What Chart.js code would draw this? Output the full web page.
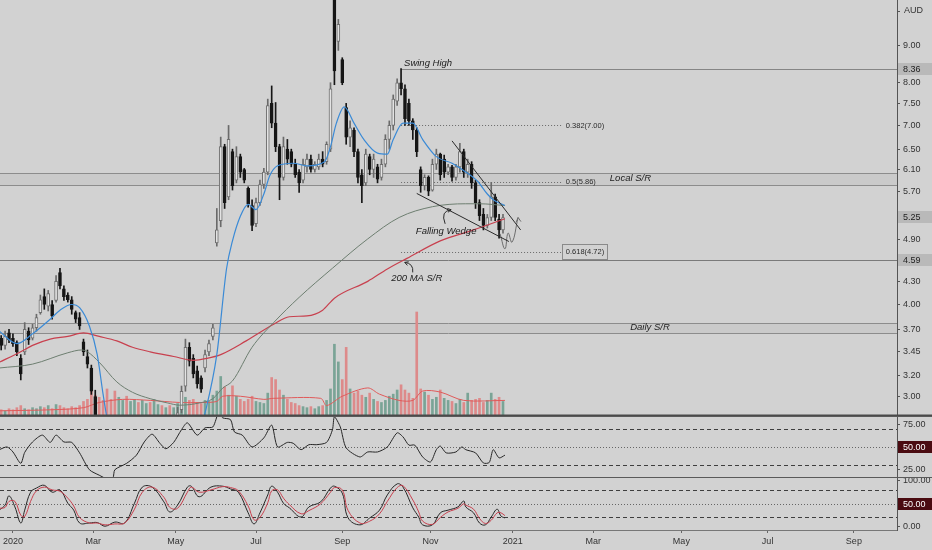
<!DOCTYPE html>
<html>
<head>
<meta charset="utf-8">
<title>Daily chart AUD</title>
<script src="https://cdn.jsdelivr.net/npm/chart.js@4.4.1/dist/chart.umd.min.js"></script>
<style>
  html, body { margin: 0; padding: 0; background: #d2d2d2; }
  body { width: 932px; height: 550px; position: relative; overflow: hidden; }
  canvas { position: absolute; left: 0; display: block; }
  #priceChart { top: 0; }
  #rsiChart { top: 416px; }
  #stochChart { top: 477px; }
</style>
</head>
<body>
<canvas id="priceChart" width="932" height="416"></canvas>
<canvas id="rsiChart" width="932" height="61"></canvas>
<canvas id="stochChart" width="932" height="73"></canvas>
<script>
// ---- data (one candle per two sessions) ----
const open = [3.60,3.52,3.66,3.60,3.55,3.38,3.45,3.68,3.60,3.72,3.90,4.10,3.98,4.00,4.05,4.42,4.20,4.12,4.06,3.90,3.84,3.56,3.40,3.28,3.00,
  2.75,2.50,2.20,1.70,1.40,1.10,1.35,1.55,1.45,1.75,1.95,1.85,2.15,2.35,2.25,2.55,2.70,2.60,2.72,2.65,2.78,
  2.88,3.10,3.50,3.38,3.25,3.18,3.28,3.45,3.62,4.85,5.20,6.55,5.60,6.45,5.90,6.35,6.10,5.75,5.45,5.15,5.50,5.82,6.05,7.50,
  7.05,6.55,5.95,6.50,6.45,6.20,6.05,5.90,6.15,6.30,6.10,6.15,6.30,6.25,6.50,10.40,9.10,8.60,7.40,6.75,6.90,6.45,6.00,5.85,
  6.35,6.10,6.15,5.95,6.20,6.70,7.00,7.55,8.00,7.85,7.50,7.10,6.90,6.10,5.80,5.95,5.72,6.20,6.40,6.30,6.05,6.15,5.95,6.15,
  6.45,6.05,6.20,5.85,5.50,5.30,5.12,5.25,5.60,5.22,5.05];
const high = [3.63,3.68,3.70,3.65,3.57,3.42,3.78,3.72,3.76,3.88,4.12,4.20,4.18,4.05,4.38,4.48,4.24,4.15,4.10,3.92,3.90,3.59,3.47,3.31,3.06,
  2.80,2.60,2.30,1.90,1.50,1.40,1.60,1.70,1.80,2.00,2.05,2.20,2.40,2.45,2.60,2.75,2.80,2.78,2.80,2.82,2.90,
  3.10,3.59,3.55,3.42,3.30,3.20,3.47,3.58,3.76,5.40,6.75,6.60,7.00,6.50,6.55,6.40,6.12,5.78,5.55,5.58,5.90,6.12,7.60,7.92,
  7.52,6.60,6.75,6.70,6.50,6.30,6.10,6.30,6.40,6.38,6.25,6.40,6.45,6.65,8.00,10.80,9.75,8.65,7.50,7.10,6.95,6.50,6.10,6.50,
  6.40,6.40,6.20,6.30,6.80,7.10,7.70,8.10,8.36,7.95,7.60,7.15,6.95,6.15,6.00,5.98,6.30,6.50,6.42,6.38,6.20,6.18,6.20,6.62,
  6.50,6.30,6.25,5.90,5.55,5.40,5.30,5.86,5.65,5.30,5.30];
const low = [3.47,3.48,3.55,3.51,3.41,3.16,3.42,3.53,3.58,3.68,3.88,3.94,3.92,3.82,4.03,4.20,4.05,4.03,3.88,3.78,3.70,3.41,3.28,3.02,2.75,
  2.45,2.10,1.60,1.30,1.00,1.05,1.30,1.40,1.45,1.70,1.80,1.85,2.10,2.20,2.20,2.50,2.55,2.50,2.60,2.60,2.70,
  2.85,3.05,3.30,3.18,3.08,3.04,3.24,3.41,3.58,4.80,5.10,5.40,5.55,5.72,5.85,5.95,5.85,5.42,5.04,5.10,5.45,5.75,6.00,6.95,
  6.45,5.55,5.90,6.20,6.15,5.95,5.68,5.85,6.05,6.05,6.05,6.10,6.15,6.20,6.45,7.95,8.85,7.95,6.60,6.55,6.35,5.85,5.50,5.80,
  6.00,5.95,5.85,5.90,6.15,6.50,6.90,7.45,7.70,7.00,7.00,6.70,6.35,5.68,5.72,5.62,5.70,6.10,5.90,5.95,6.00,5.88,5.90,6.05,
  5.95,5.95,5.75,5.40,5.20,5.05,5.08,5.20,5.20,4.92,5.00];
const close = [3.52,3.62,3.58,3.54,3.45,3.22,3.70,3.58,3.72,3.84,4.06,4.00,4.14,3.86,4.30,4.24,4.10,4.06,3.94,3.82,3.74,3.45,3.32,3.05,2.78,
  2.50,2.20,1.70,1.40,1.10,1.35,1.55,1.45,1.75,1.95,1.85,2.15,2.35,2.25,2.55,2.70,2.60,2.72,2.65,2.78,2.85,
  3.05,3.50,3.35,3.22,3.12,3.07,3.42,3.54,3.72,5.05,6.55,5.50,6.70,5.80,6.35,6.05,5.90,5.48,5.12,5.50,5.82,6.05,7.45,7.05,
  6.55,5.95,6.55,6.30,6.20,6.00,5.85,6.20,6.30,6.10,6.20,6.30,6.20,6.60,7.85,8.30,9.60,8.00,6.75,6.95,6.45,5.95,5.80,6.40,
  6.10,6.30,5.92,6.20,6.70,7.00,7.60,8.00,7.85,7.15,7.10,6.90,6.45,5.80,5.95,5.70,6.20,6.40,6.00,6.05,6.15,5.95,6.15,6.45,
  6.05,6.20,5.85,5.50,5.28,5.12,5.25,5.60,5.25,5.05,5.25];
// volume, millions of shares
const volume = [0.6,0.5,0.7,0.6,0.8,1.0,0.7,0.6,0.8,0.7,0.9,0.8,1.0,0.7,1.1,1.0,0.8,0.7,0.9,0.8,1.0,1.4,1.6,2.4,2.0,
  1.8,1.5,2.6,1.6,2.4,1.8,1.5,1.9,1.4,1.6,1.3,1.5,1.2,1.3,1.6,1.1,1.0,0.8,1.0,0.8,1.2,
  1.2,1.8,1.5,1.6,1.3,1.2,1.5,1.4,2.0,2.4,3.8,2.8,2.0,2.9,1.9,1.6,1.4,1.6,1.9,1.4,1.3,1.2,2.2,3.7,
  3.5,2.5,2.0,1.6,1.3,1.2,1.0,0.9,0.8,0.9,0.7,0.9,1.0,1.5,2.6,6.9,5.2,3.5,6.6,2.6,2.2,2.4,2.0,1.8,
  2.2,1.6,1.4,1.3,1.5,1.9,2.1,2.5,3.0,2.5,2.2,1.7,10.0,2.6,2.3,2.0,1.6,1.8,2.5,1.7,1.5,1.4,1.2,1.6,
  1.3,2.2,1.5,1.6,1.7,1.3,1.5,2.2,1.6,1.8,1.4];
// session number of each candle (0 = first session of 2020)
const barIdx = open.map((_, k) => k * 2 - 6);

const blueIdx = [-7,2,10,19,24,30,34,39,43,46,49,60,75,88,98,104,109,112,116,120,124,128,131,135,143,150,159,162,165,169,174,179,186,191,194,199,204,209,216,224,227,237,242,245,251];
const blueMa  = [3.68,3.54,3.65,3.82,3.93,4.00,3.96,3.74,3.42,3.02,2.70,1.90,1.80,2.30,2.85,3.42,4.48,4.88,5.27,5.47,5.38,5.65,5.98,6.17,6.22,6.17,6.25,6.55,7.05,7.42,7.05,6.70,6.42,6.40,6.70,7.05,7.05,6.70,6.35,6.22,6.15,5.88,5.65,5.55,5.45];
const grayIdx = [-7,10,28,35,38,44,53,61,70,79,85,95,102,107,112,122,133,146,163,181,197,214,231,238,251];
const grayMa  = [3.28,3.32,3.44,3.47,3.45,3.34,3.14,3.04,2.98,2.94,2.92,2.94,2.98,3.08,3.15,3.50,3.78,4.09,4.48,4.91,5.25,5.43,5.48,5.48,5.45];
const redIdx  = [-7,3,10,19,28,36,44,53,61,70,82,92,99,106,119,133,141,150,158,164,181,191,201,218,235,251];
const redMa   = [3.34,3.44,3.52,3.59,3.62,3.66,3.62,3.57,3.50,3.45,3.40,3.36,3.38,3.42,3.57,3.76,3.85,3.86,3.93,4.08,4.30,4.47,4.62,4.88,5.05,5.23];
const volMaIdx = [-7,20,36,44,56,70,85,96,104,107,116,128,133,157,160,168,181,187,197,204,209,218,230,251];
const volMa    = [0.5,0.6,0.8,1.3,1.6,1.5,1.3,1.3,1.4,1.9,1.9,1.6,1.7,1.7,1.0,1.9,2.7,2.1,1.5,1.5,2.4,2.3,1.5,1.5];

const rsiIdx = [-7,-3,0,4,6,10,15,19,22,26,30,34,39,44,48,51,52,58,63,67,71,75,78,82,86,89,94,98,102,105,107,111,113,117,122,128,132,135,140,143,147,151,155,160,163,164,167,170,177,181,186,191,196,199,202,205,209,213,216,218,221,226,229,231,236,240,243,245,248,251];
const rsi    = [47,50,44.5,32,44,55.5,63,55,63,55.5,55,43.5,25,19,15,16,25,32,41,55.5,64,54,48,55,69,76.5,63,71,72,88,82,80,66.5,63,50,60,74,50,55,54,47,52.5,52.5,55,69,83,72,49,39,44.5,44.5,50,65.5,61,52,52,39,33.5,47,51,43.5,44.5,50,47,43.5,32.4,33,47,38,41];
const stochIdx = [-7,-4,-2,1,4,6,9,12,16,20,24,28,31,34,39,43,47,52,57,62,66,71,77,80,84,89,91,95,101,107,111,115,120,123,126,130,132,135,138,141,147,151,157,162,164,168,171,177,182,187,191,196,199,204,207,209,214,218,222,227,230,231,235,238,241,244,247,249,251];
const stochK = [36,47,67,43,8,36,75,84,90,75,80,51,36,8,8,9,1,10,8,51,86,86,54,32,47,86,88,65,86,88,82,75,30,6,30,69,88,75,51,41,21,43,54,84,88,73,19,4,19,36,69,93,86,41,21,4,4,30,36,43,56,43,30,8,4,21,38,23,19];
const stochD = [40,42,55,55,25,22,55,78,86,80,77,62,45,20,8,8,4,6,8,38,75,86,64,42,40,75,86,75,80,87,85,78,45,15,20,52,78,80,62,48,28,35,50,75,85,80,35,8,12,28,55,85,89,58,32,12,5,20,32,40,50,47,38,18,7,14,30,30,24];

// drawn studies
const wedgeUpperIdx = [224, 259], wedgeUpper = [6.67, 5.05];
const wedgeLowerIdx = [206, 253], wedgeLower = [5.66, 4.87];
const pathIdx = [248.5, 251, 252.6, 254.6, 257.7], pathPrice = [4.99, 4.76, 5.00, 4.86, 5.25];

// levels
const swingHigh = 8.36;
const fibRatios = ['0.382', '0.5', '0.618'];
const fibPrices = [7.00, 5.86, 4.72];
const localSR = [5.82, 6.03];
const dailySR = [3.66, 3.78];
const support = 4.59;
const lastPrice = 5.25;

// axes
const priceTicks = [3.00, 3.20, 3.45, 3.70, 4.00, 4.30, 4.90, 5.70, 6.10, 6.50, 7.00, 7.50, 8.00, 9.00];
const priceTags = [swingHigh, lastPrice, support];
const monthIdx = [0, 41, 83, 124, 168, 213, 255, 296, 341, 385, 429];
const monthLabels = ['2020', 'Mar', 'May', 'Jul', 'Sep', 'Nov', '2021', 'Mar', 'May', 'Jul', 'Sep'];

// ---- helpers ----
const FONT = '"Liberation Sans", Arial, sans-serif';
const X_MIN = -6.6, X_MAX = 451;
Chart.defaults.font.family = FONT;

const pts = (xs, ys) => xs.map((x, k) => ({ x, y: ys[k] }));
const isUp = k => close[k] >= open[k];

function xScale(show) {
    return {
        type: 'linear', min: X_MIN, max: X_MAX, display: show, offset: false,
        afterBuildTicks: s => { s.ticks = monthIdx.map(v => ({ value: v })); },
        ticks: { autoSkip: false, maxRotation: 0, color: '#333', font: { size: 9 }, padding: 3,
                 callback: v => monthLabels[monthIdx.indexOf(v)] },
        grid: { drawOnChartArea: false, drawTicks: true, tickLength: 3, color: '#666', offset: false },
        border: { display: true, color: '#777' },
        afterFit: s => { if (show) s.height = 20; s.paddingLeft = 0; s.paddingRight = 0; }
    };
}

function yScale(extra) {
    return Object.assign({
        position: 'right',
        grid: { drawOnChartArea: false, drawTicks: true, tickLength: 3, color: '#555' },
        border: { display: true, color: '#555' },
        ticks: { autoSkip: false, color: '#333', font: { size: 9 }, padding: 3, callback: v => Number(v).toFixed(2) },
        afterFit: s => { s.width = 35; s.paddingTop = 0; s.paddingBottom = 0; }
    }, extra);
}

function hline(ctx, x1, x2, y, color, dash) {
    const yy = Math.round(y) + 0.5;
    ctx.beginPath();
    ctx.setLineDash(dash || []);
    ctx.strokeStyle = color;
    ctx.lineWidth = 1;
    ctx.moveTo(x1, yy); ctx.lineTo(x2, yy);
    ctx.stroke();
    ctx.setLineDash([]);
}

function arrowHead(ctx, x, y, ang, size) {
    ctx.beginPath();
    ctx.moveTo(x - size * Math.cos(ang - 0.5), y - size * Math.sin(ang - 0.5));
    ctx.lineTo(x, y);
    ctx.lineTo(x - size * Math.cos(ang + 0.5), y - size * Math.sin(ang + 0.5));
    ctx.stroke();
}

function axisTag(ctx, chart, y, text, bg, fg) {
    const left = chart.chartArea.right + 1;
    ctx.fillStyle = bg;
    ctx.fillRect(left, Math.round(y) - 6, chart.width - left, 12);
    ctx.fillStyle = fg;
    ctx.font = '9px ' + FONT;
    ctx.textAlign = 'left';
    ctx.textBaseline = 'middle';
    ctx.fillText(text, left + 5, Math.round(y) + 0.5);
}

// ---- price pane decorations ----
const FIB_FROM = 198, FIB_TO = 280;
const priceDecor = {
    id: 'priceDecor',
    beforeDatasetsDraw(chart) {
        const { ctx, chartArea: a, scales: { x, y } } = chart;
        ctx.save();
        for (const band of [localSR, dailySR]) {
            const top = Math.round(y.getPixelForValue(band[1])), bot = Math.round(y.getPixelForValue(band[0]));
            ctx.fillStyle = 'rgba(0,0,0,0.035)';
            ctx.fillRect(a.left, top, a.right - a.left, bot - top);
            hline(ctx, a.left, a.right, top, '#8c8c8c');
            hline(ctx, a.left, a.right, bot, '#8c8c8c');
        }
        hline(ctx, a.left, a.right, y.getPixelForValue(support), '#7a7a7a');
        const sx = x.getPixelForValue(FIB_FROM), fx = x.getPixelForValue(FIB_TO);
        hline(ctx, sx, a.right, y.getPixelForValue(swingHigh), '#858585');
        fibPrices.forEach(p => hline(ctx, sx, fx, y.getPixelForValue(p), '#6a6a6a', [1, 2]));
        ctx.restore();
    },
    afterDatasetsDraw(chart) {
        const { ctx, scales: { x, y } } = chart;
        ctx.save();
        const sx = x.getPixelForValue(FIB_FROM), fx = x.getPixelForValue(FIB_TO);
        ctx.fillStyle = '#1c1c1c';
        ctx.font = 'italic 9.5px ' + FONT;
        ctx.textAlign = 'left'; ctx.textBaseline = 'bottom';
        ctx.fillText('Swing High', sx + 3, y.getPixelForValue(swingHigh) - 1);

        ctx.textAlign = 'center'; ctx.textBaseline = 'middle';
        ctx.fillText('Local S/R', x.getPixelForValue(315), (y.getPixelForValue(localSR[0]) + y.getPixelForValue(localSR[1])) / 2);
        ctx.fillText('Daily S/R', x.getPixelForValue(325), (y.getPixelForValue(dailySR[0]) + y.getPixelForValue(dailySR[1])) / 2);

        const wx = x.getPixelForValue(221), wy = y.getPixelForValue(5.02);
        ctx.fillText('Falling Wedge', wx, wy);
        const mx = x.getPixelForValue(206), my = y.getPixelForValue(4.34);
        ctx.fillText('200 MA S/R', mx, my);

        // little curved pointers
        ctx.strokeStyle = '#2a2a2a'; ctx.lineWidth = 1;
        ctx.beginPath(); ctx.moveTo(wx - 1, wy - 8); ctx.quadraticCurveTo(wx - 6, wy - 21, wx + 5, wy - 22); ctx.stroke();
        arrowHead(ctx, wx + 5, wy - 22, -0.15, 4);
        ctx.beginPath(); ctx.moveTo(mx - 4, my - 6); ctx.quadraticCurveTo(mx - 3, my - 15, mx - 12, my - 16); ctx.stroke();
        arrowHead(ctx, mx - 12, my - 16, Math.PI + 0.35, 4);

        // fib labels
        ctx.font = '7.5px ' + FONT;
        ctx.textAlign = 'left'; ctx.fillStyle = '#2a2a2a';
        fibPrices.forEach((p, k) => {
            const py = y.getPixelForValue(p);
            const t = fibRatios[k] + '(' + p.toFixed(2) + ')';
            ctx.fillText(t, fx + 4, py);
            if (k === 2) {
                const w = ctx.measureText(t).width + 7;
                ctx.strokeStyle = '#8a8a8a';
                ctx.strokeRect(Math.round(fx) + 0.5, Math.round(py) - 7.5, Math.round(w), 15);
            }
        });

        // projected path arrow
        const meta = chart.getDatasetMeta(chart.data.datasets.findIndex(d => d.label === 'path'));
        const pe = meta.data[meta.data.length - 1], pp = meta.data[meta.data.length - 2];
        ctx.strokeStyle = '#6c6c6c';
        arrowHead(ctx, pe.x, pe.y, Math.atan2(pe.y - pp.y, pe.x - pp.x) - 0.35, 5);
        ctx.restore();
    },
    afterDraw(chart) {
        const { ctx, chartArea: a, scales: { y } } = chart;
        ctx.save();
        priceTags.forEach(v => axisTag(ctx, chart, y.getPixelForValue(v), v.toFixed(2), '#b9b9b9', '#1e1e1e'));
        ctx.fillStyle = '#333'; ctx.font = '9px ' + FONT;
        ctx.textAlign = 'left'; ctx.textBaseline = 'middle';
        ctx.fillText('AUD', a.right + 7, a.top + 11);
        hline(ctx, a.right, a.right + 3, a.top + 11, '#555');
        ctx.strokeStyle = '#4a4a4a'; ctx.lineWidth = 1.5;
        ctx.beginPath(); ctx.moveTo(0, a.bottom - 0.75); ctx.lineTo(chart.width, a.bottom - 0.75); ctx.stroke();
        ctx.restore();
    }
};

function oscDecor(id, hi, lo) {
    return {
        id,
        beforeDatasetsDraw(chart) {
            const { ctx, chartArea: a, scales: { y } } = chart;
            ctx.save();
            hline(ctx, a.left, a.right, y.getPixelForValue(hi), '#3e3e3e', [4, 3]);
            hline(ctx, a.left, a.right, y.getPixelForValue(lo), '#3e3e3e', [4, 3]);
            hline(ctx, a.left, a.right, y.getPixelForValue(50), '#666', [1, 2]);
            ctx.restore();
        },
        afterDraw(chart) {
            const { ctx, scales: { y } } = chart;
            ctx.save();
            axisTag(ctx, chart, y.getPixelForValue(50), '50.00', '#4a0b11', '#ffffff');
            ctx.strokeStyle = '#5a5a5a'; ctx.lineWidth = 1;
            ctx.beginPath(); ctx.moveTo(0, 0.5); ctx.lineTo(chart.width, 0.5); ctx.stroke();
            ctx.restore();
        }
    };
}

const common = { responsive: false, animation: false, events: [],
    layout: { padding: 0 },
    plugins: { legend: { display: false }, tooltip: { enabled: false } } };

// ---- price + volume ----
new Chart(document.getElementById('priceChart'), {
    data: {
        datasets: [
            { type: 'line', label: 'ma20', data: pts(blueIdx, blueMa), borderColor: '#3a8ad6', borderWidth: 1.2,
              pointRadius: 0, tension: 0.4, cubicInterpolationMode: 'monotone', order: 1 },
            { type: 'line', label: 'ma100', data: pts(grayIdx, grayMa), borderColor: '#6d7e70', borderWidth: 1,
              pointRadius: 0, tension: 0.4, cubicInterpolationMode: 'monotone', order: 1 },
            { type: 'line', label: 'ma200', data: pts(redIdx, redMa), borderColor: '#c8404e', borderWidth: 1.2,
              pointRadius: 0, tension: 0.4, cubicInterpolationMode: 'monotone', order: 1 },
            { type: 'line', label: 'wedgeUp', data: pts(wedgeUpperIdx, wedgeUpper), borderColor: '#2a2a2a', borderWidth: 1, pointRadius: 0, order: 0 },
            { type: 'line', label: 'wedgeLo', data: pts(wedgeLowerIdx, wedgeLower), borderColor: '#2a2a2a', borderWidth: 1, pointRadius: 0, order: 0 },
            { type: 'line', label: 'path', data: pts(pathIdx, pathPrice), borderColor: '#6c6c6c', borderWidth: 1,
              pointRadius: 0, tension: 0.45, order: 0 },
            { type: 'bar', label: 'bodies', data: barIdx.map((x, k) => ({ x, y: [open[k], close[k]] })),
              backgroundColor: barIdx.map((_, k) => isUp(k) ? '#e3e3e3' : '#161616'),
              borderColor: barIdx.map((_, k) => isUp(k) ? '#6e6e6e' : '#161616'),
              borderWidth: 1, borderSkipped: false, barThickness: 3, grouped: false, order: 2 },
            { type: 'bar', label: 'wicks', data: barIdx.map((x, k) => ({ x, y: [low[k], high[k]] })),
              backgroundColor: barIdx.map((_, k) => isUp(k) ? '#6a6a6a' : '#161616'),
              barThickness: 1, grouped: false, order: 3 },
            { type: 'line', label: 'volMa', yAxisID: 'yv', data: pts(volMaIdx, volMa), borderColor: '#e05a5a', borderWidth: 1,
              pointRadius: 0, tension: 0.3, order: 4 },
            { type: 'bar', label: 'volume', yAxisID: 'yv', data: barIdx.map((x, k) => ({ x, y: volume[k] })),
              backgroundColor: barIdx.map((_, k) => close[k] >= (k ? close[k - 1] : open[k]) ? '#7aa496' : '#dd8a8a'),
              barThickness: 2, grouped: false, order: 5 }
        ]
    },
    options: Object.assign({}, common, {
        scales: {
            x: xScale(false),
            y: yScale({ type: 'logarithmic', min: 2.823, max: 10.36,
                afterBuildTicks: s => { s.ticks = priceTicks.map(v => ({ value: v })); } }),
            yv: { type: 'linear', min: 0, max: 40, display: false }
        }
    }),
    plugins: [priceDecor]
});

// ---- RSI ----
new Chart(document.getElementById('rsiChart'), {
    type: 'line',
    data: { datasets: [
        { data: pts(rsiIdx, rsi), borderColor: '#262626', borderWidth: 1, pointRadius: 0, tension: 0.25 }
    ] },
    options: Object.assign({}, common, {
        scales: {
            x: xScale(false),
            y: yScale({ min: 17, max: 84, afterBuildTicks: s => { s.ticks = [{ value: 25 }, { value: 75 }]; } })
        }
    }),
    plugins: [oscDecor('rsiDecor', 70, 30)]
});

// ---- Stochastic ----
new Chart(document.getElementById('stochChart'), {
    type: 'line',
    data: { datasets: [
        { data: pts(stochIdx, stochD), borderColor: '#c8404e', borderWidth: 1, pointRadius: 0, tension: 0.4 },
        { data: pts(stochIdx, stochK), borderColor: '#262626', borderWidth: 1, pointRadius: 0, tension: 0.4 }
    ] },
    options: Object.assign({}, common, {
        scales: {
            x: xScale(true),
            y: yScale({ min: -7.2, max: 108, afterBuildTicks: s => { s.ticks = [{ value: 0 }, { value: 100 }]; } })
        }
    }),
    plugins: [oscDecor('stochDecor', 80, 20)]
});
</script>
</body>
</html>
